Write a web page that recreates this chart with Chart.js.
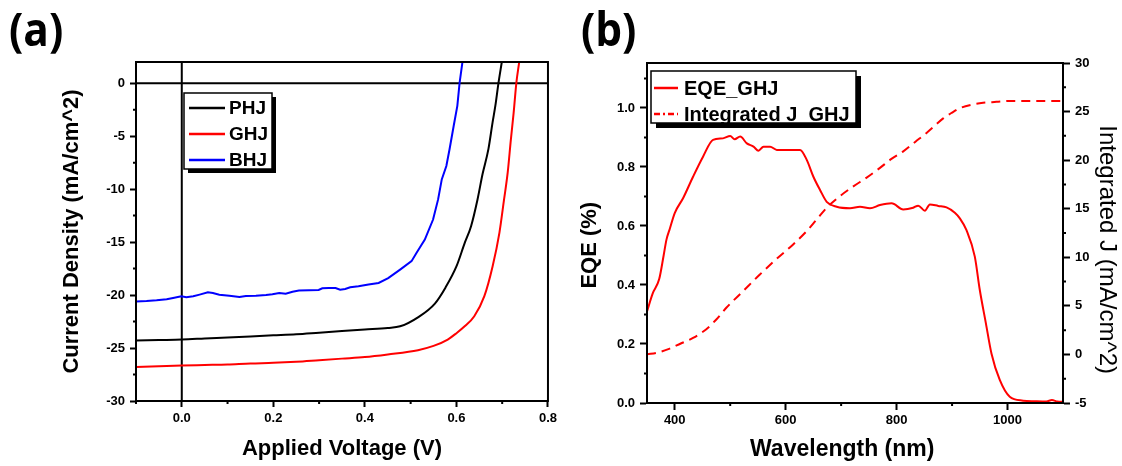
<!DOCTYPE html>
<html>
<head>
<meta charset="utf-8">
<script src="https://cdn.jsdelivr.net/npm/chart.js@4"></script>
<style>
  html, body { margin: 0; padding: 0; background: #fff; }
  #wrap { position: relative; width: 1122px; height: 466px; overflow: hidden; }
  canvas { position: absolute; top: 0; }
  #jvChart { left: 0; }
  #eqeChart { left: 561px; }
  .panel { position: absolute; top: 5px; font: bold 46px/1 "Open Sans", sans-serif; color: #000; transform: scaleX(0.92); transform-origin: 0 0; }
</style>
</head>
<body>
<div id="wrap">
  <canvas id="jvChart" width="561" height="466"></canvas>
  <canvas id="eqeChart" width="561" height="466"></canvas>
  <div class="panel" style="left:9px">(a)</div>
  <div class="panel" style="left:581px">(b)</div>
</div>
<script>
// J-V curves (voltage in V, current density in mA/cm^2)
const phjV = [-0.1, -0.05, 0, 0.05, 0.1, 0.15, 0.2, 0.25, 0.3, 0.35, 0.4, 0.45, 0.477, 0.516, 0.553, 0.576, 0.6, 0.618, 0.632, 0.646, 0.657, 0.67, 0.679, 0.685, 0.692, 0.699];
const phjJ = [-24.3, -24.25, -24.2, -24.1, -24.0, -23.9, -23.8, -23.7, -23.55, -23.4, -23.25, -23.1, -22.95, -22.1, -20.8, -19.3, -17.3, -15.1, -13.5, -11.0, -8.6, -6.2, -3.7, -2.15, 0.05, 1.95];

const ghjV = [-0.1, -0.05, 0, 0.05, 0.1, 0.15, 0.2, 0.25, 0.3, 0.35, 0.4, 0.45, 0.516, 0.55, 0.581, 0.6, 0.618, 0.639, 0.661, 0.679, 0.694, 0.704, 0.712, 0.719, 0.725, 0.731, 0.737];
const ghjJ = [-26.8, -26.72, -26.65, -26.6, -26.55, -26.45, -26.4, -26.3, -26.15, -26.0, -25.85, -25.6, -25.2, -24.8, -24.2, -23.6, -22.95, -22.0, -20.1, -17.3, -14.1, -11.0, -8.45, -5.3, -2.8, 0.05, 1.95];

const bhjV = [-0.1, -0.077, -0.055, -0.033, -0.019, -0.001, 0.010, 0.025, 0.039, 0.057, 0.068, 0.082, 0.104, 0.126, 0.140, 0.162, 0.184, 0.198, 0.213, 0.227, 0.242, 0.256, 0.278, 0.299, 0.307, 0.321, 0.336, 0.346, 0.357, 0.368, 0.386, 0.408, 0.43, 0.451, 0.477, 0.502, 0.513, 0.531, 0.549, 0.560, 0.568, 0.578, 0.585, 0.594, 0.602, 0.607, 0.613];
const bhjJ = [-20.6, -20.56, -20.5, -20.4, -20.28, -20.12, -20.21, -20.12, -19.96, -19.74, -19.8, -19.96, -20.06, -20.18, -20.09, -20.06, -19.99, -19.93, -19.8, -19.87, -19.68, -19.58, -19.55, -19.52, -19.36, -19.33, -19.33, -19.49, -19.43, -19.27, -19.17, -19.0, -18.86, -18.4, -17.6, -16.8, -16.0, -14.76, -12.87, -10.97, -9.08, -7.82, -6.24, -4.04, -2.14, 0.06, 1.95];

const jvXTicks = [0, 0.2, 0.4, 0.6, 0.8];
const jvXMinor = [-0.1, 0.1, 0.3, 0.5, 0.7];
const jvYTicks = [-30, -25, -20, -15, -10, -5, 0];
const jvYMinor = [-27.5, -22.5, -17.5, -12.5, -7.5, -2.5];

// EQE spectrum and integrated current (wavelength in nm)
const eqeNm = [350, 360, 372, 380, 385, 391, 400, 415, 433, 451, 469, 487, 500, 508, 518, 530, 542, 551, 560, 572, 584, 600, 626, 638, 650, 662, 674, 692, 716, 734, 752, 770, 791, 812, 830, 839, 851, 860, 875, 890, 905, 914, 926, 941, 950, 961, 971, 986, 1004, 1028, 1050, 1070, 1080, 1090, 1100];
const eqeVal = [0.31, 0.37, 0.42, 0.5, 0.553, 0.59, 0.644, 0.694, 0.767, 0.835, 0.892, 0.897, 0.905, 0.894, 0.903, 0.88, 0.869, 0.855, 0.869, 0.869, 0.858, 0.858, 0.858, 0.824, 0.767, 0.722, 0.682, 0.665, 0.66, 0.665, 0.66, 0.671, 0.677, 0.656, 0.662, 0.669, 0.652, 0.673, 0.668, 0.663, 0.645, 0.626, 0.586, 0.496, 0.383, 0.27, 0.168, 0.078, 0.021, 0.008, 0.006, 0.005, 0.01, 0.005, 0.004];

const intNm = [350, 370, 391, 410, 433, 457, 475, 493, 523, 553, 583, 613, 638, 656, 674, 698, 722, 746, 770, 790, 812, 834, 854, 870, 884, 900, 914, 935, 956, 980, 1004, 1050, 1100];
const intJ = [0.0, 0.2, 0.6, 1.1, 1.7, 2.6, 3.6, 4.8, 6.5, 8.2, 9.8, 11.3, 12.7, 13.9, 15.1, 16.3, 17.3, 18.2, 19.2, 20.1, 20.9, 21.9, 22.8, 23.6, 24.3, 24.9, 25.35, 25.7, 25.9, 26.0, 26.1, 26.1, 26.1];

const nmTicks = [400, 600, 800, 1000];
const nmMinor = [500, 700, 900];
const eqeTicks = [0, 0.2, 0.4, 0.6, 0.8, 1.0];
const eqeMinor = [0.1, 0.3, 0.5, 0.7, 0.9, 1.1];
const intTicks = [-5, 0, 5, 10, 15, 20, 25, 30];
const intMinor = [-2.5, 2.5, 7.5, 12.5, 17.5, 22.5, 27.5];

const FONT = '"Liberation Sans", Arial, sans-serif';
const pts = (xs, ys) => xs.map((x, i) => ({ x, y: ys[i] }));
const fixTicks = list => s => { s.ticks = list.map(v => ({ value: v })); };

// box frame, minor ticks and optional zero lines
const frameTicks = {
  id: 'frameTicks',
  beforeDatasetsDraw(chart, args, o) {
    if (!o.zeroLines) return;
    const { ctx, chartArea: a, scales } = chart;
    const x0 = scales.x.getPixelForValue(0);
    const y0 = scales.y.getPixelForValue(0);
    ctx.save();
    ctx.strokeStyle = '#000';
    ctx.lineWidth = 2;
    ctx.beginPath();
    ctx.moveTo(x0, a.top); ctx.lineTo(x0, a.bottom);
    ctx.moveTo(a.left, y0); ctx.lineTo(a.right, y0);
    ctx.stroke();
    ctx.restore();
  },
  afterDatasetsDraw(chart, args, o) {
    const { ctx, chartArea: a, scales } = chart;
    ctx.save();
    ctx.strokeStyle = '#000';
    ctx.lineWidth = 2;
    ctx.strokeRect(a.left, a.top, a.right - a.left, a.bottom - a.top);
    ctx.beginPath();
    Object.entries(o.minor || {}).forEach(([id, vals]) => {
      const s = scales[id];
      vals.forEach(v => {
        const p = s.getPixelForValue(v);
        if (s.position === 'bottom') { ctx.moveTo(p, a.bottom); ctx.lineTo(p, a.bottom + o.len); }
        else if (s.position === 'left') { ctx.moveTo(a.left, p); ctx.lineTo(a.left - o.len, p); }
        else { ctx.moveTo(a.right, p); ctx.lineTo(a.right + o.len, p); }
      });
    });
    ctx.stroke();
    ctx.restore();
  }
};

// framed legend with a drop shadow
const boxLegend = {
  id: 'boxLegend',
  afterDraw(chart, args, o) {
    const { ctx, chartArea: a } = chart;
    const x = a.left + o.left, y = a.top + o.top;
    ctx.save();
    ctx.fillStyle = '#000';
    ctx.fillRect(x + o.shadow, y + o.shadow, o.width, o.height);
    ctx.fillStyle = '#fff';
    ctx.fillRect(x, y, o.width, o.height);
    ctx.strokeStyle = '#000';
    ctx.lineWidth = 1.5;
    ctx.strokeRect(x, y, o.width, o.height);
    ctx.font = o.font;
    ctx.textBaseline = 'middle';
    chart.data.datasets.forEach((ds, i) => {
      const cy = y + o.firstRow + i * o.rowGap;
      ctx.strokeStyle = ds.borderColor;
      ctx.lineWidth = 2.5;
      ctx.setLineDash(o.dashes[i] || []);
      ctx.beginPath();
      ctx.moveTo(x + o.lineStart, cy);
      ctx.lineTo(x + o.lineStart + o.lineLength, cy);
      ctx.stroke();
      ctx.setLineDash([]);
      ctx.fillStyle = '#000';
      ctx.fillText(ds.label, x + o.textStart, cy + 1);
    });
    ctx.restore();
  }
};

const tickFont = { family: FONT, size: 13, weight: 'bold' };
const titleFont = { family: FONT, size: 22, weight: 'bold' };
const axisGrid = len => ({ drawOnChartArea: false, drawTicks: true, tickLength: len, tickWidth: 2, tickColor: '#000' });
const axisBorder = { color: '#000', width: 2 };

new Chart(document.getElementById('jvChart'), {
  type: 'line',
  data: {
    datasets: [
      { label: 'PHJ', data: pts(phjV, phjJ), borderColor: '#000000' },
      { label: 'GHJ', data: pts(ghjV, ghjJ), borderColor: '#ff0000' },
      { label: 'BHJ', data: pts(bhjV, bhjJ), borderColor: '#0000ff', cubicInterpolationMode: 'default', tension: 0 }
    ]
  },
  options: {
    responsive: false,
    animation: false,
    events: [],
    layout: { padding: { left: 0, top: 62, right: 10, bottom: 0 } },
    elements: {
      point: { radius: 0 },
      line: { borderWidth: 2, cubicInterpolationMode: 'monotone' }
    },
    plugins: {
      legend: { display: false },
      tooltip: { enabled: false },
      frameTicks: { zeroLines: true, len: 3, minor: { x: jvXMinor, y: jvYMinor } },
      boxLegend: {
        left: 48, top: 31, width: 88, height: 76, shadow: 4,
        firstRow: 15, rowGap: 26, lineStart: 5, lineLength: 36, textStart: 45,
        font: 'bold 19px ' + FONT, dashes: []
      }
    },
    scales: {
      x: {
        type: 'linear', min: -0.1, max: 0.8,
        afterBuildTicks: fixTicks(jvXTicks),
        afterFit: s => { s.height = 65; },
        ticks: { autoSkip: false, maxRotation: 0, padding: 4, color: '#000', font: tickFont, callback: v => v.toFixed(1) },
        grid: axisGrid(6), border: axisBorder,
        title: { display: true, text: 'Applied Voltage (V)', color: '#000', font: titleFont, padding: { top: 0, bottom: 4 } }
      },
      y: {
        type: 'linear', min: -30, max: 2,
        afterBuildTicks: fixTicks(jvYTicks),
        afterFit: s => { s.width = 136; },
        ticks: { autoSkip: false, padding: 5, color: '#000', font: tickFont, callback: v => String(v) },
        grid: axisGrid(6), border: axisBorder,
        title: { display: true, text: 'Current Density (mA/cm^2)', color: '#000', font: titleFont, padding: { top: 59, bottom: 0 } }
      }
    }
  },
  plugins: [frameTicks, boxLegend]
});

new Chart(document.getElementById('eqeChart'), {
  type: 'line',
  data: {
    datasets: [
      { label: 'EQE_GHJ', data: pts(eqeNm, eqeVal), borderColor: '#ff0000', yAxisID: 'y' },
      { label: 'Integrated J_GHJ', data: pts(intNm, intJ), borderColor: '#ff0000', borderDash: [9, 6], yAxisID: 'y2' }
    ]
  },
  options: {
    responsive: false,
    animation: false,
    events: [],
    layout: { padding: { left: 0, top: 63, right: 0, bottom: 0 } },
    elements: {
      point: { radius: 0 },
      line: { borderWidth: 2, cubicInterpolationMode: 'monotone' }
    },
    plugins: {
      legend: { display: false },
      tooltip: { enabled: false },
      frameTicks: { zeroLines: false, len: 3, minor: { x: nmMinor, y: eqeMinor, y2: intMinor } },
      boxLegend: {
        left: 4, top: 8, width: 205, height: 52, shadow: 5,
        firstRow: 17, rowGap: 26, lineStart: 3, lineLength: 24, textStart: 33,
        font: 'bold 20px ' + FONT, dashes: [[], [6, 3, 2, 3]]
      }
    },
    scales: {
      x: {
        type: 'linear', min: 350, max: 1100,
        afterBuildTicks: fixTicks(nmTicks),
        afterFit: s => { s.height = 63; },
        ticks: { autoSkip: false, maxRotation: 0, padding: 3, color: '#000', font: tickFont, callback: v => String(v) },
        grid: axisGrid(7), border: axisBorder,
        title: { display: true, text: 'Wavelength (nm)    ', color: '#000', font: { family: FONT, size: 23, weight: 'bold' }, padding: { top: 0, bottom: 3 } }
      },
      y: {
        type: 'linear', position: 'left', min: 0, max: 1.1525,
        afterBuildTicks: fixTicks(eqeTicks),
        afterFit: s => { s.width = 86; },
        ticks: { autoSkip: false, padding: 5, color: '#000', font: tickFont, callback: v => v.toFixed(1) },
        grid: axisGrid(7), border: axisBorder,
        title: { display: true, text: 'EQE (%)    ', color: '#000', font: titleFont, padding: { top: 16, bottom: 0 } }
      },
      y2: {
        type: 'linear', position: 'right', min: -5, max: 30,
        afterBuildTicks: fixTicks(intTicks),
        afterFit: s => { s.width = 59; },
        ticks: { autoSkip: false, padding: 5, color: '#000', font: tickFont, callback: v => String(v) },
        grid: axisGrid(7), border: axisBorder,
        title: { display: true, text: '     Integrated J (mA/cm^2)', color: '#000', font: { family: FONT, size: 24 }, padding: { top: 1, bottom: 0 } }
      }
    }
  },
  plugins: [frameTicks, boxLegend]
});
</script>
</body>
</html>
